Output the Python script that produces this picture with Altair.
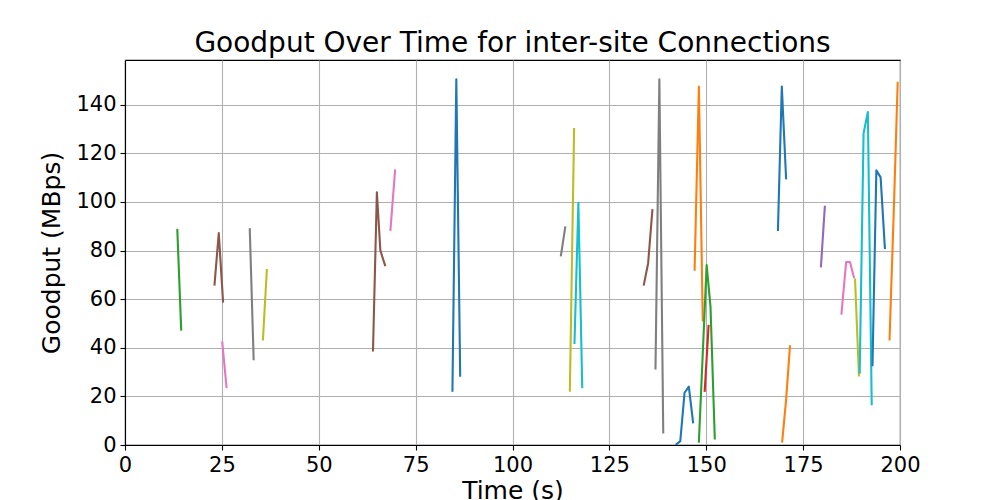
import altair as alt
import pandas as pd

# Connection segments (time s, goodput MBps), colour index in tab10 cycle
conn_times = [
    [13.5, 14.5],
    [23.1, 24.2, 25.3],
    [25.1, 26.2],
    [32.2, 33.2],
    [35.6, 36.6],
    [64.0, 65.0, 65.9, 67.1],
    [68.5, 69.7],
    [84.5, 85.5, 86.5],
    [112.5, 113.6],
    [114.8, 115.9],
    [116.0, 117.0, 118.0],
    [133.9, 135.0, 136.1],
    [136.9, 137.9, 138.9],
    [142.3, 143.3, 144.4, 145.5, 146.6],
    [147.0, 148.1, 149.1],
    [148.1, 150.1, 151.1, 152.2],
    [149.6, 150.6],
    [168.5, 169.5, 170.6],
    [169.6, 170.6, 171.6],
    [179.6, 180.6],
    [184.9, 186.1, 187.1, 188.1],
    [188.4, 189.4],
    [189.6, 190.6, 191.7, 192.7],
    [192.9, 193.9, 195.0, 196.1],
    [197.3, 198.4, 199.4],
]
conn_values = [
    [88.5, 47.5],
    [66.0, 87.2, 59.0],
    [42.2, 23.8],
    [88.8, 35.3],
    [43.4, 72.0],
    [38.9, 104.0, 80.0, 74.0],
    [88.5, 113.0],
    [22.3, 150.5, 28.5],
    [78.0, 89.5],
    [22.3, 130.0],
    [42.0, 99.6, 23.8],
    [66.0, 74.8, 96.6],
    [31.5, 150.5, 5.2],
    [0.3, 1.6, 21.5, 24.0, 9.3],
    [72.1, 147.5, 51.3],
    [1.4, 74.0, 56.8, 2.7],
    [22.3, 49.0],
    [88.5, 147.5, 109.7],
    [1.4, 18.5, 40.6],
    [73.5, 98.0],
    [54.1, 75.3, 75.3, 69.0],
    [68.1, 28.6],
    [29.8, 128.2, 137.0, 16.8],
    [32.8, 113.0, 110.1, 81.0],
    [43.4, 96.5, 149.0],
]
conn_colors = ["C2", "C5", "C6", "C7", "C8", "C5", "C6", "C0", "C7", "C8",
               "C9", "C5", "C7", "C0", "C1", "C2", "C3", "C0", "C1", "C4",
               "C6", "C8", "C9", "C0", "C1"]

x_ticks = [0, 25, 50, 75, 100, 125, 150, 175, 200]
y_ticks = [0, 20, 40, 60, 80, 100, 120, 140]

tab10_names = ["C0", "C1", "C2", "C3", "C4", "C5", "C6", "C7", "C8", "C9"]
tab10 = ["#1f77b4", "#ff7f0e", "#2ca02c", "#d62728", "#9467bd",
         "#8c564b", "#e377c2", "#7f7f7f", "#bcbd22", "#17becf"]

rows = []
for i, (ts, vs, c) in enumerate(zip(conn_times, conn_values, conn_colors)):
    for j, (t, v) in enumerate(zip(ts, vs)):
        rows.append({"conn": i, "order": j, "t": t, "v": v, "color": c})
df = pd.DataFrame(rows)

chart = alt.Chart(df).mark_line(
    strokeWidth=2.1, strokeJoin="round", strokeCap="square", clip=True
).encode(
    x=alt.X("t:Q", scale=alt.Scale(domain=[0, 200], nice=False, zero=False),
            axis=alt.Axis(values=x_ticks, title="Time (s)", labelFlush=False,
                          titlePadding=3)),
    y=alt.Y("v:Q", scale=alt.Scale(domain=[0, 158.4], nice=False),
            axis=alt.Axis(values=y_ticks, title="Goodput (MBps)", labelFlush=False,
                          titlePadding=11)),
    color=alt.Color("color:N", scale=alt.Scale(domain=tab10_names, range=tab10), legend=None),
    detail="conn:N",
    order="order:Q",
).properties(
    width=775,
    height=385,
    title=alt.Title("Goodput Over Time for inter-site Connections", fontSize=28,
                    font="DejaVu Sans", fontWeight="normal", color="black",
                    offset=2, frame="group", anchor="middle"),
    autosize=alt.AutoSizeParams(type="none"),
    padding={"left": 117, "top": 52, "right": 84, "bottom": 58},
).configure_view(
    stroke="black", strokeWidth=1.1
).configure_axis(
    grid=True, gridColor="#b0b0b0", gridWidth=1.1,
    domainColor="black", domainWidth=1.1,
    tickColor="black", tickSize=5, tickWidth=1.1,
    labelFont="DejaVu Sans", labelFontSize=21, labelColor="black", labelPadding=4,
    titleFont="DejaVu Sans", titleFontSize=25, titleFontWeight="normal",
    titleColor="black",
)

chart.save("out.html", embed_options={"renderer": "svg", "actions": False})
